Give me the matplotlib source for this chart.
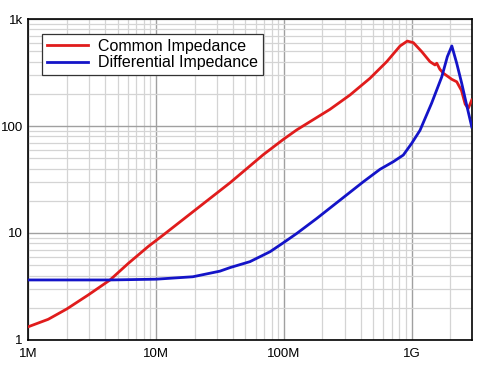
import matplotlib
matplotlib.use("Agg")
import matplotlib.pyplot as plt
from matplotlib.ticker import NullFormatter, LogLocator
import numpy as np

plt.rcParams['font.family'] = ['Liberation Sans', 'DejaVu Sans']

# Common impedance (red)
common_freq = [1.0e6, 1.43e6, 2.0e6, 2.95e6, 4.36e6, 6.06e6, 8.7e6, 11.4e6, 37.9e6, 69e6,
               99e6, 126e6, 229e6, 329e6, 471e6, 637e6, 811e6, 924e6, 1.03e9, 1.2e9,
               1.39e9, 1.52e9, 1.57e9, 1.66e9, 1.77e9, 2.06e9, 2.25e9, 2.45e9, 2.62e9,
               2.77e9, 2.95e9]
common_z = [1.33, 1.56, 1.95, 2.64, 3.64, 5.2, 7.5, 9.6, 29.5, 54,
            75, 92, 143, 195, 279, 399, 560, 622, 601, 494,
            399, 372, 386, 339, 311, 273, 259, 215, 160,
            146, 175]

# Differential impedance (blue)
diff_freq = [1.0e6, 4.36e6, 10e6, 19.4e6, 31.6e6, 37.9e6, 54.3e6, 78e6, 98.9e6, 126e6,
             181e6, 275e6, 418e6, 565e6, 718e6, 859e6, 1.0e9, 1.16e9, 1.43e9,
             1.72e9, 1.90e9, 2.06e9, 2.25e9, 2.46e9, 2.69e9, 2.95e9]
diff_z = [3.64, 3.64, 3.7, 3.9, 4.4, 4.75, 5.4, 6.69, 8.1, 9.9,
          13.7, 20.3, 30.1, 39.4, 46.4, 53.5, 68.9, 91, 163,
          289, 445, 560, 385, 251, 157, 98]

x_ticks = [1e6, 1e7, 1e8, 1e9]
x_labels = ["1M", "10M", "100M", "1G"]
y_ticks = [1, 10, 100, 1000]
y_labels = ["1", "10", "100", "1k"]

fig = plt.figure(figsize=(4.94, 3.67), dpi=100)
ax = fig.add_axes([0.0573, 0.0736, 0.8977, 0.8746])

ax.plot(common_freq, common_z, color="#e01c1c", lw=2.0, label="Common Impedance",
        zorder=3, solid_joinstyle="round")
ax.plot(diff_freq, diff_z, color="#1414c8", lw=2.0, label="Differential Impedance",
        zorder=4, solid_joinstyle="round")

ax.set_xscale("log")
ax.set_yscale("log")
ax.set_xlim(1e6, 2.95e9)
ax.set_ylim(1, 1000)

ax.set_xticks(x_ticks)
ax.set_xticklabels(x_labels)
ax.set_yticks(y_ticks)
ax.set_yticklabels(y_labels)
ax.xaxis.set_minor_locator(LogLocator(base=10, subs=np.arange(2, 10), numticks=20))
ax.yaxis.set_minor_locator(LogLocator(base=10, subs=np.arange(2, 10), numticks=20))
ax.xaxis.set_minor_formatter(NullFormatter())
ax.yaxis.set_minor_formatter(NullFormatter())

ax.grid(True, which="major", color="#a0a0a0", lw=1.0)
ax.grid(True, which="minor", color="#d4d4d4", lw=0.9)
ax.set_axisbelow(True)

ax.tick_params(which="both", length=0, labelsize=9.5, colors="black")
ax.tick_params(axis="x", pad=6)
ax.tick_params(axis="y", pad=4)

for s in ax.spines.values():
    s.set_color("black")
    s.set_linewidth(1.2)

leg = ax.legend(loc="upper left", bbox_to_anchor=(0.031, 0.953), borderaxespad=0,
                fontsize=11.5, frameon=True, fancybox=False, edgecolor="#333333",
                framealpha=1, handlelength=2.6, borderpad=0.3, labelspacing=0.1,
                handletextpad=0.6)
leg.get_frame().set_linewidth(0.9)

fig.savefig("out.png", dpi=100)
